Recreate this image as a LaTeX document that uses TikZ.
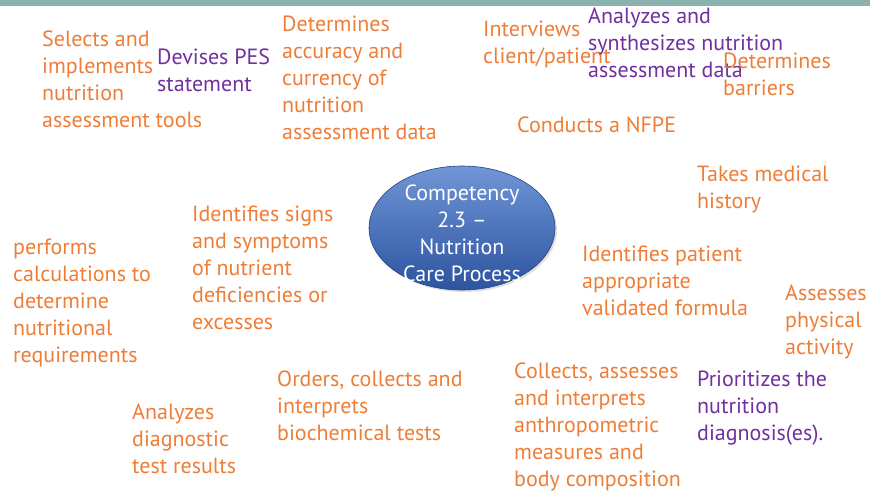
\documentclass[tikz,border=0pt]{standalone}
\usepackage{fontspec}
\setmainfont{PT Sans}
\usetikzlibrary{shapes.geometric,shadows}
\definecolor{ncporange}{RGB}{238,125,55}
\definecolor{ncppurple}{RGB}{112,48,160}
\definecolor{topbar}{RGB}{138,179,175}
\definecolor{elltop}{RGB}{112,150,214}
\definecolor{ellbot}{RGB}{44,84,160}
\tikzset{
  txt/.style={anchor=base west, align=left, inner sep=0pt,
    font=\fontsize{22}{27}\selectfont},
  orangetxt/.style={txt, text=ncporange},
  purpletxt/.style={txt, text=ncppurple},
  compell/.style={ellipse, minimum width=186pt, minimum height=124pt,
    top color=elltop, bottom color=ellbot, draw=ellbot!80!black, line width=0.6pt,
    drop shadow={opacity=0.25, shadow xshift=2pt, shadow yshift=-2pt}}
}
\begin{document}
\begin{tikzpicture}[x=1pt,y=-1pt]

\useasboundingbox (0,0) rectangle (870,493);
\fill[topbar] (0,0) rectangle (870,6);

\node[compell] (comp) at (462,228) {};
\node[txt, anchor=center, align=center, text=white] (comptxt) at ([yshift=-5pt]comp.center) {Competency\\2.3 –\\Nutrition\\Care Process};

% anchors sit on the last line's baseline
\node[orangetxt] (selects) at (42,127) {Selects and\\implements\\nutrition\\assessment tools};
\node[purpletxt] (devises) at (157,91) {Devises PES\\statement};
\node[orangetxt] (accuracy) at (282,139) {Determines\\accuracy and\\currency of\\nutrition\\assessment data};
\node[orangetxt] (interviews) at (483,63) {Interviews\\client/patient};
\node[purpletxt] (analyzes) at (588,77) {Analyzes and\\synthesizes nutrition\\assessment data};
\node[orangetxt] (barriers) at (723,95) {Determines\\barriers};
\node[orangetxt] (nfpe) at (517,132) {Conducts a NFPE};
\node[orangetxt] (history) at (697,208) {Takes medical\\history};

\node[orangetxt] (signs) at (192,329) {Identifies signs\\and symptoms\\of nutrient\\deficiencies or\\excesses};
\node[orangetxt] (calc) at (13,362) {performs\\calculations to\\determine\\nutritional\\requirements};
\node[orangetxt] (formula) at (582,315) {Identifies patient\\appropriate\\validated formula};
\node[orangetxt] (activity) at (785,354) {Assesses\\physical\\activity};

\node[orangetxt] (orders) at (277,440) {Orders, collects and\\interprets\\biochemical tests};
\node[orangetxt] (anthro) at (514,486) {Collects, assesses\\and interprets\\anthropometric\\measures and\\body composition};
\node[purpletxt] (prioritizes) at (697,440) {Prioritizes the\\nutrition\\diagnosis(es).};
\node[orangetxt] (diagtest) at (132,473) {Analyzes\\diagnostic\\test results};
\end{tikzpicture}
\end{document}
